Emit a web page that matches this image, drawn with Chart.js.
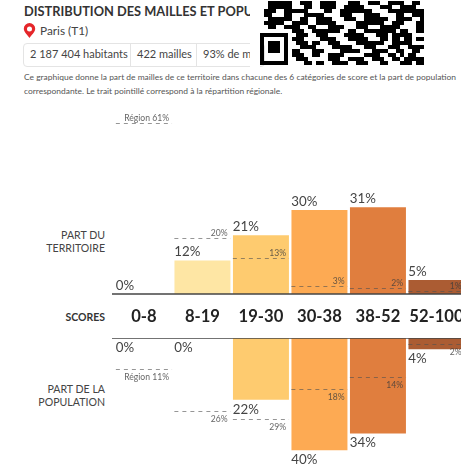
<!DOCTYPE html>
<html><head><meta charset="utf-8">
<script src="https://cdn.jsdelivr.net/npm/chart.js@4/dist/chart.umd.min.js"></script>
<style>
html,body{margin:0;padding:0;background:#fff;overflow:hidden;width:461px;height:469px;font-family:Lato,sans-serif}
#page{position:relative;width:461px;height:469px;overflow:hidden}
.t{position:absolute;white-space:nowrap}
canvas{position:absolute}
.side{right:356px;text-align:right;color:#444;font-size:10.6px;line-height:13px}
</style></head><body><div id="page">
<div class="t" style="left:24px;top:3px;width:226px;overflow:hidden;font-size:12.8px;font-weight:700;color:#333;line-height:16px">DISTRIBUTION DES MAILLES ET POPULATION</div>
<svg class="t" style="left:23px;top:23px" width="13" height="15" viewBox="0 0 13 15"><path fill-rule="evenodd" fill="#e5262a" d="M6.5 15C5 12.6.8 9 .8 5.8a5.7 5.7 0 0 1 11.4 0C12.2 9 8 12.6 6.5 15zM6.5 3.4a2.5 2.5 0 1 0 0 5 2.5 2.5 0 0 0 0-5z"/></svg>
<div class="t" style="left:40px;top:23px;font-size:11.8px;color:#444;line-height:16px">Paris (T1)</div>
<div class="t" style="left:23px;top:43px;width:240px;height:22px;border:1px solid #e4e4e4;border-radius:4px"></div>
<div class="t" style="left:130px;top:44px;width:1px;height:22px;background:#e4e4e4"></div>
<div class="t" style="left:196px;top:44px;width:1px;height:22px;background:#e4e4e4"></div>
<div class="t" style="left:30px;top:46px;font-size:11px;color:#444;line-height:16px">2 187 404 habitants</div>
<div class="t" style="left:137px;top:46px;font-size:11px;color:#444;line-height:16px">422 mailles</div>
<div class="t" style="left:203px;top:46px;width:47px;overflow:hidden;font-size:11px;color:#444;line-height:16px">93% de mailles</div>
<div class="t" style="left:250px;top:0;width:10px;height:70px;background:#fff"></div>
<canvas id="qr" width="166" height="66" style="left:260px;top:0"></canvas>
<div class="t" style="left:24px;top:71px;font-size:8.45px;color:#555;line-height:13.5px">Ce graphique donne la part de mailles de ce territoire dans chacune des 6 catégories de score et la part de population<br>correspondante. Le trait pointillé correspond à la répartition régionale.</div>
<div class="t side" style="top:229px">PART DU<br>TERRITOIRE</div>
<div class="t side" style="top:311px;font-weight:700;font-size:10.5px;color:#333">SCORES</div>
<div class="t side" style="top:383px">PART DE LA<br>POPULATION</div>
<canvas id="top" style="left:0;top:92px"></canvas>
<canvas id="bottom" style="left:0;top:338px"></canvas>
</div>
<script>
const categories = ['0-8','8-19','19-30','30-38','38-52','52-100'];
const territoryShare = [0,12,21,30,31,5];
const populationShare = [0,0,22,40,34,4];
const territoryRegion = [61,20,13,3,2,1];
const populationRegion = [11,26,29,18,14,2];
const barColors = ['#fee6a4','#fee6a4','#fecb6f','#fdaa53','#e07e3e','#ab5c33'];
const qrRows = [
"00111111001110011110001110011100111100110",
"00111111000110011110011111000011100111100",
"01110011111100001100111111110000111111111",
"01100011000111110000111000111100001100111",
"00111111001100111100011100111111001111001",
"01111100111100111110000011111110011100011",
"00110011110011000111100011100011111000011",
"00000000111001111111001100111111110110011",
"11111110011100111000011111000111011111000",
"10000010111000011110001111100011011011011",
"10111010011101100111000011111110011111000",
"10111010001111000011111000111000111001111",
"10111010110001110000111110001111001100110",
"10000010111001100111100000111100110101100",
"10000010011100000111001111001110011011111",
"11111110000110110011110011100011000111011"];
const qc=document.getElementById('qr').getContext('2d');
qc.fillStyle='#000';
qrRows.forEach((r,y)=>[...r].forEach((c,x)=>{if(c==='1')qc.fillRect(x*4,y*4+1,4,4);}));

const AXIS_LEFT=112, LEFT=114.7, STEP=58.5;
const FONT='Lato, sans-serif';
function overlay(values, region, down){
  return {id:'overlay',
    afterDatasetsDraw(ch){
      const c=ch.ctx,x=ch.scales.x,y=ch.scales.y,half=STEP*0.48;
      c.save();
      const y0=y.getPixelForValue(0);
      c.strokeStyle='#444';c.lineWidth=1.5;
      c.beginPath();c.moveTo(AXIS_LEFT,y0);c.lineTo(ch.width,y0);c.stroke();
      c.textBaseline='alphabetic';
      values.forEach((v,i)=>{
        const cx=x.getPixelForValue(i),yv=y.getPixelForValue(v),yr=Math.round(y.getPixelForValue(region[i]))+.5;
        c.font='13.3px '+FONT;c.fillStyle='#444';c.textAlign='left';
        c.fillText(v+'%',cx-half,down?yv+14:yv-4);
        c.setLineDash([4,4]);c.lineWidth=1;c.strokeStyle='rgba(80,80,80,.6)';
        c.beginPath();c.moveTo(cx-half,yr);c.lineTo(cx+half,yr);c.stroke();
        c.setLineDash([]);
        c.font='8.6px '+FONT;c.fillStyle='rgba(60,60,60,.8)';c.textAlign='right';
        const lbl=(i===0?'Région ':'')+region[i]+'%';
        c.fillText(lbl,cx+half-3,down?yr+10:yr-3);
      });
      c.restore();
    }};
}
function build(id,values,region,down,h,padTop,axisH,yMax){
  const cv=document.getElementById(id);
  cv.width=470;cv.height=h;cv.style.width='470px';cv.style.height=h+'px';
  new Chart(cv,{type:'bar',
    data:{labels:categories,datasets:[{data:values,backgroundColor:barColors,barPercentage:.957,categoryPercentage:1}]},
    options:{responsive:false,animation:false,devicePixelRatio:1,
      layout:{padding:{left:LEFT,right:470-LEFT-STEP*6,top:padTop,bottom:0}},
      plugins:{legend:{display:false},tooltip:{enabled:false}},
      scales:{
        x:{position:down?'top':'bottom',grid:{display:false},border:{display:false},
           afterFit(s){s.height=axisH;s.paddingLeft=0;s.paddingRight=0;},
           ticks:{display:!down,maxRotation:0,autoSkip:false,padding:5,color:'#222',font:{family:FONT,size:16.6,weight:'700'}}},
        y:{display:false,min:0,max:yMax,reverse:down}
      }},
    plugins:[overlay(values,region,down)]});
}
build('top',territoryShare,territoryRegion,false,246,20,44,65);
build('bottom',populationShare,populationRegion,true,132,0,0,47);
</script></body></html>
